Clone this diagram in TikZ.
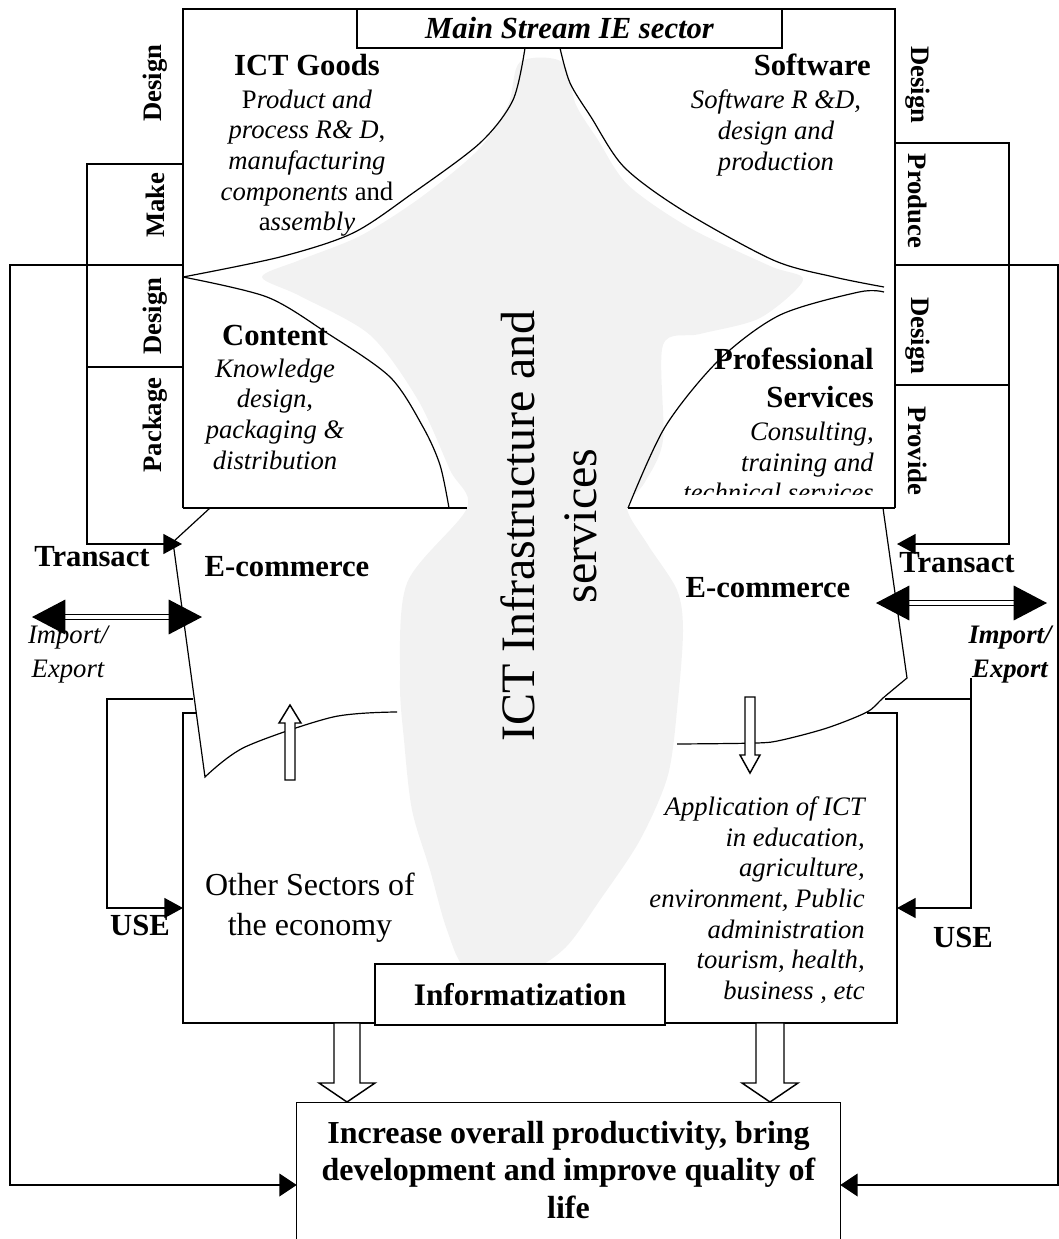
\documentclass[tikz,border=0pt]{standalone}
\usepackage{fontspec}
\setmainfont{Liberation Serif}
\usepackage{tikz}
\usetikzlibrary{arrows.meta,calc,positioning}
\definecolor{MapGrey}{HTML}{F2F2F2}

\tikzset{
  boxline/.style={line width=1.1pt},
  curveline/.style={line width=0.9pt},
  sidetag/.style={font=\bfseries\fontsize{20}{24}\selectfont, inner sep=0pt},
  sechead/.style={font=\bfseries\fontsize{23}{29}\selectfont, inner sep=0pt},
  secdesc/.style={font=\itshape\fontsize{20}{23}\selectfont, inner sep=0pt},
  usearrow/.style={boxline, -{Triangle[length=14pt,width=15pt]}},
  backarrow/.style={boxline, -{Triangle[length=13pt,width=17pt]}},
  impexp/.style={double, double distance=2.4pt, line width=0.9pt,
    {Triangle[length=25pt,width=26pt]}-{Triangle[length=25pt,width=26pt]}},
  fatarrow/.style={line width=1.1pt, fill=white, line join=miter},
}

\begin{document}
\begin{tikzpicture}[x=0.75pt,y=-0.75pt,>=Latex]
\useasboundingbox (0,0) rectangle (1059,1239);
\clip (0,0) rectangle (1059,1239);

% grey map behind everything
\fill[MapGrey] plot[smooth cycle, tension=0.5] coordinates {
  (520,62) (562,62) (576,105) (598,140) (628,185) (690,228) (770,266)
  (803,280) (760,318) (700,334) (663,345) (663,440) (645,482) (627,508)
  (648,545) (677,590) (683,630) (678,700) (668,775) (640,840) (600,900)
  (565,948) (525,972) (468,970) (447,930) (430,870) (412,810) (404,740)
  (400,680) (407,583) (467,508) (450,470) (418,400) (370,335) (300,296)
  (262,277) (300,260) (360,236) (420,198) (478,150) (508,105)};

\node[font=\fontsize{36}{46.5}\selectfont, rotate=90, align=center, inner sep=0pt]
  (infra) at (549,526) {ICT Infrastructure and\\services};

% main stream frame
\draw[boxline] (183,508) -- (183,9) -- (895,9) -- (895,508);
\node[draw, boxline, fill=white, minimum width=318.75pt, minimum height=29.25pt,
  inner sep=0pt, font=\bfseries\itshape\fontsize{23}{27}\selectfont]
  (mainstream) at (569.5,28.5) {Main Stream IE sector};

\draw[curveline] plot[smooth] coordinates {(525,48) (513,100) (480,143) (413,193) (353,233) (280,257) (183,277)};
\draw[curveline] plot[smooth] coordinates {(560,48) (570,83) (591,117) (624,167) (682,210) (773,260) (834,277) (884,287)};
\draw[curveline] plot[smooth] coordinates {(183,277) (267,297) (327,333) (390,377) (423,427) (440,465) (449,508)};
\draw[curveline] plot[smooth] coordinates {(884,292) (859,292) (780,315) (719,360) (665,427) (628,508)};
\draw[boxline] (183,508) -- (467,508);
\draw[boxline] (628,508) -- (895,508);

\node[sechead] (goods) at (307,65) {ICT Goods};
\node[secdesc, align=center] (goodsdesc) at (307,163)
  {{\upshape P}roduct and\\process R\& D{\upshape ,}\\manufacturing\\components {\upshape and}\\{\upshape a}ssembly};
\node[sechead, anchor=east] (software) at (871,65) {Software};
\node[secdesc, align=center] (softdesc) at (776,133) {Software R \&D,\\design and\\production};
\node[sechead] (content) at (275,335) {Content};
\node[secdesc, align=center] (contentdesc) at (275,414) {Knowledge\\design,\\packaging \&\\distribution};
\node[sechead, align=right, anchor=east] (prof) at (874,378) {Professional\\Services};
\begin{scope}
  \clip (640,330) rectangle (895,494);
  \node[secdesc, align=right, anchor=east] (profdesc) at (874,462) {Consulting,\\training and\\technical services};
\end{scope}

% side columns
\node[sidetag, rotate=90] (ldesign) at (155,83) {Design};
\node[sidetag, rotate=90] (lmake) at (155,205) {Make};
\node[sidetag, rotate=90] (ldesigntwo) at (155,316) {Design};
\node[sidetag, rotate=90] (lpackage) at (155,425) {Package};
\node[sidetag, rotate=-90] (rdesign) at (918,85) {Design};
\node[sidetag, rotate=-90] (rproduce) at (918,201) {Produce};
\node[sidetag, rotate=-90] (rdesigntwo) at (918,336) {Design};
\node[sidetag, rotate=-90] (rprovide) at (918,451) {Provide};

\coordinate (lsplit) at (183,265);
\coordinate (rsplit) at (895,265);
\coordinate (ltransact) at (182,544);
\coordinate (rtransact) at (897,544);
\draw[boxline] (87,367) -- (183,367);
\draw[boxline] (895,385) -- (1009,385);
\draw[usearrow] (183,164) -- (87,164) -- (87,544) -- (ltransact);
\draw[usearrow] (895,143) -- (1009,143) -- (1009,544) -- (rtransact);

% e-commerce
\draw[curveline] (210,508) -- (173,542) -- plot[smooth] coordinates {(205,777) (245,747) (333,717) (397,712)};
\draw[curveline] (883,508) -- plot[smooth] coordinates {(907,678) (883,698) (867,712) (827,728) (782,740) (757,743) (677,744)};
\node[sechead] (trl) at (92,557) {Transact};
\node[sechead] (trr) at (957,563) {Transact};
\node[sechead] (ecl) at (287,567) {E-commerce};
\node[sechead] (ecr) at (768,588) {E-commerce};
\coordinate (iel) at (32,617);
\coordinate (ier) at (202,617);
\coordinate (iel2) at (876,603);
\coordinate (ier2) at (1047,603);
\draw[impexp] (iel) -- (ier);
\draw[impexp] (iel2) -- (ier2);
\node[secdesc, font=\itshape\fontsize{20}{25.5}\selectfont, align=center] (ielabel) at (68,655) {Import/\\Export};
\node[secdesc, font=\bfseries\itshape\fontsize{20}{25.5}\selectfont, align=center] (ierlabel) at (1010,655) {Import/\\Export};

\draw[fatarrow] (290,780) ++(-5,0) -- ++(0,-57) -- ++(-6,0) -- ++(11,-18) -- ++(11,18) -- ++(-6,0) -- ++(0,57) -- cycle;
\draw[fatarrow] (750,697) ++(-5,0) -- ++(0,58) -- ++(-5,0) -- ++(10,18) -- ++(10,-18) -- ++(-5,0) -- ++(0,-58) -- cycle;

% other sectors
\coordinate (lsector) at (183,908);
\coordinate (rsector) at (897,908);
\draw[boxline] (196,713) -- (183,713) -- (183,1023) -- (897,1023) -- (897,713) -- (867,713);
\draw[usearrow] (193,699) -- (107,699) -- (107,908) -- (lsector);
\draw[usearrow] (885,699) -- (971,699) -- (971,908) -- (rsector);
\draw[boxline] (971,678) -- (971,699);
\node[sechead] (usel) at (140,925) {USE};
\node[sechead] (user) at (963,937) {USE};
\node[font=\fontsize{24}{30}\selectfont, align=center, inner sep=0pt] (others) at (310,908) {Other Sectors of\\the economy};
\node[secdesc, align=right, anchor=east] (apps) at (865,900)
  {Application of ICT\\in education,\\agriculture,\\environment, Public\\administration\\tourism, health,\\business , etc};
\node[draw, boxline, fill=white, minimum width=217.5pt, minimum height=45.75pt, inner sep=0pt,
  font=\bfseries\fontsize{23.5}{28}\selectfont] (infobox) at (520,994.5) {Informatization};

% outcome
\node[minimum width=407.25pt, minimum height=120pt, inner sep=0pt] (outcome) at (568.5,1183) {};
\draw[boxline] (outcome.south west) |- (outcome.north east) -- (outcome.south east);
\node[font=\bfseries\fontsize{24}{28}\selectfont, align=center, inner sep=0pt] (outtext) at (568.5,1170)
  {Increase overall productivity, bring\\development and improve quality of\\life};
\draw[fatarrow] (347,1023) ++(-13,0) -- ++(0,60) -- ++(-15,0) -- ++(28,19) -- ++(28,-19) -- ++(-15,0) -- ++(0,-60) -- cycle;
\draw[fatarrow] (770,1023) ++(-14,0) -- ++(0,60) -- ++(-14,0) -- ++(28,19) -- ++(28,-19) -- ++(-14,0) -- ++(0,-60) -- cycle;

\draw[backarrow] (lsplit) -- (10,265) -- (10,1185) -- (outcome.west |- 0,1185);
\draw[backarrow] (rsplit) -- (1058,265) -- (1058,1185) -- (outcome.east |- 0,1185);
\end{tikzpicture}
\end{document}
